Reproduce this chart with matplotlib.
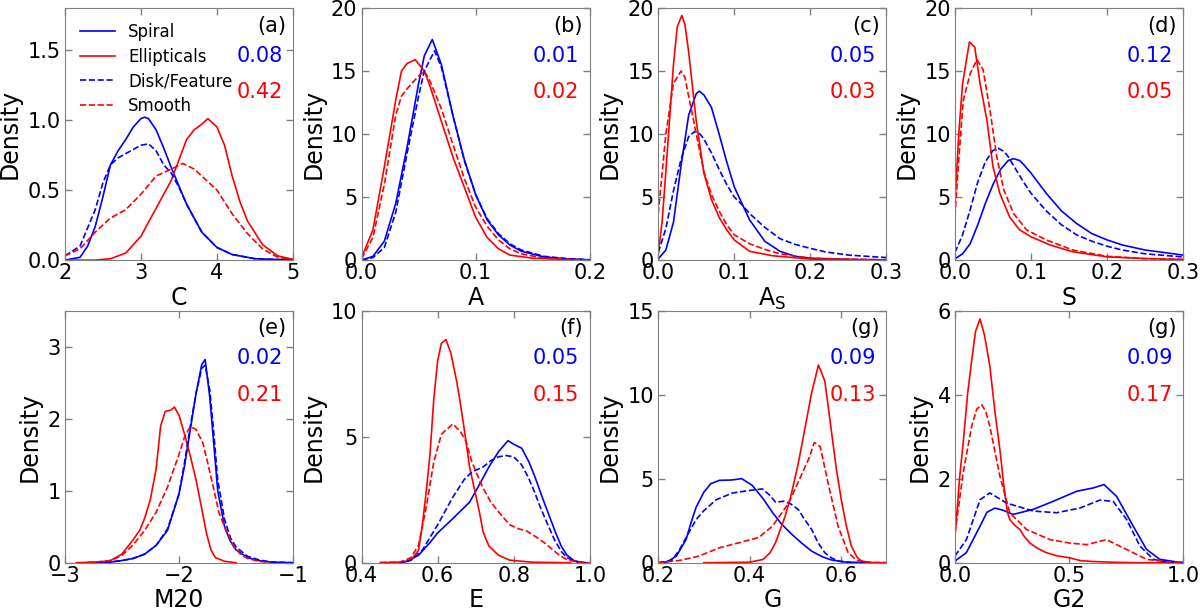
import matplotlib
matplotlib.use('Agg')
import matplotlib.pyplot as plt

# ---- data (x, density) ----
# (a) C
c_sp_x = [2.0, 2.2, 2.3, 2.4, 2.5, 2.6, 2.7, 2.8, 2.9, 3.0, 3.05, 3.1, 3.2, 3.3, 3.4, 3.5, 3.6, 3.8, 4.0, 4.2, 4.5, 5.0]
c_sp_y = [0.0, 0.02, 0.1, 0.24, 0.45, 0.68, 0.78, 0.86, 0.95, 1.01, 1.02, 1.01, 0.93, 0.8, 0.66, 0.53, 0.40, 0.2, 0.09, 0.04, 0.01, 0.0]
c_el_x = [2.0, 2.4, 2.6, 2.8, 3.0, 3.2, 3.4, 3.6, 3.7, 3.8, 3.88, 4.0, 4.1, 4.2, 4.3, 4.4, 4.6, 4.8, 5.0]
c_el_y = [0.0, 0.0, 0.01, 0.05, 0.17, 0.37, 0.57, 0.86, 0.93, 0.97, 1.01, 0.95, 0.82, 0.6, 0.42, 0.28, 0.11, 0.03, 0.005]
c_dk_x = [2.0, 2.2, 2.4, 2.5, 2.6, 2.7, 2.8, 2.9, 3.0, 3.1, 3.2, 3.3, 3.4, 3.5, 3.6, 3.8, 4.0, 4.2, 4.5, 5.0]
c_dk_y = [0.03, 0.1, 0.36, 0.55, 0.68, 0.73, 0.76, 0.79, 0.82, 0.83, 0.78, 0.68, 0.62, 0.52, 0.40, 0.2, 0.09, 0.04, 0.01, 0.0]
c_sm_x = [2.0, 2.2, 2.4, 2.6, 2.8, 3.0, 3.2, 3.4, 3.55, 3.7, 3.8, 4.0, 4.2, 4.4, 4.6, 4.8, 5.0]
c_sm_y = [0.03, 0.08, 0.2, 0.3, 0.36, 0.47, 0.6, 0.65, 0.69, 0.65, 0.6, 0.5, 0.33, 0.19, 0.08, 0.02, 0.005]

# (b) A
a_sp_x = [0.0, 0.01, 0.02, 0.03, 0.04, 0.05, 0.055, 0.062, 0.07, 0.08, 0.09, 0.1, 0.11, 0.12, 0.13, 0.14, 0.16, 0.18, 0.2]
a_sp_y = [0.0, 0.3, 1.5, 4.5, 9.0, 14.0, 16.2, 17.5, 15.5, 11.5, 8.0, 5.2, 3.2, 2.0, 1.2, 0.7, 0.25, 0.1, 0.02]
a_el_x = [0.0, 0.01, 0.02, 0.03, 0.035, 0.04, 0.047, 0.055, 0.06, 0.07, 0.08, 0.09, 0.1, 0.11, 0.12, 0.13, 0.15, 0.2]
a_el_y = [0.2, 2.4, 7.4, 12.7, 15.0, 15.6, 15.9, 15.0, 13.8, 11.0, 8.2, 5.8, 3.4, 1.8, 0.9, 0.4, 0.15, 0.0]
a_dk_x = [0.0, 0.01, 0.02, 0.03, 0.04, 0.05, 0.055, 0.064, 0.07, 0.08, 0.09, 0.1, 0.11, 0.12, 0.13, 0.14, 0.16, 0.18, 0.2]
a_dk_y = [0.0, 0.2, 1.0, 3.8, 8.5, 13.0, 15.0, 16.6, 15.3, 11.5, 7.9, 5.2, 3.3, 2.1, 1.3, 0.8, 0.3, 0.12, 0.03]
a_sm_x = [0.0, 0.01, 0.02, 0.03, 0.035, 0.04, 0.05, 0.055, 0.06, 0.07, 0.08, 0.09, 0.1, 0.11, 0.12, 0.13, 0.14, 0.16, 0.2]
a_sm_y = [0.1, 1.8, 6.0, 11.5, 13.0, 13.6, 14.6, 15.0, 14.2, 12.0, 9.2, 6.5, 4.2, 2.7, 1.6, 0.9, 0.5, 0.15, 0.0]

# (c) A_S
as_sp_x = [0.0, 0.01, 0.02, 0.03, 0.04, 0.05, 0.054, 0.06, 0.07, 0.08, 0.09, 0.1, 0.11, 0.12, 0.14, 0.16, 0.18, 0.2, 0.25, 0.3]
as_sp_y = [0.1, 0.8, 3.0, 7.5, 11.5, 13.2, 13.4, 13.1, 12.1, 10.0, 7.8, 5.8, 4.5, 3.2, 1.5, 0.7, 0.3, 0.15, 0.05, 0.02]
as_el_x = [0.0, 0.005, 0.01, 0.02, 0.025, 0.031, 0.035, 0.04, 0.05, 0.06, 0.07, 0.08, 0.09, 0.1, 0.12, 0.15, 0.2, 0.3]
as_el_y = [0.5, 3.0, 7.0, 15.5, 18.5, 19.4, 18.7, 16.5, 11.0, 6.9, 4.8, 3.4, 2.4, 1.6, 0.7, 0.35, 0.08, 0.0]
as_dk_x = [0.0, 0.01, 0.02, 0.03, 0.04, 0.048, 0.055, 0.06, 0.07, 0.08, 0.09, 0.1, 0.11, 0.12, 0.14, 0.16, 0.18, 0.2, 0.22, 0.25, 0.3]
as_dk_y = [0.6, 2.5, 5.5, 8.0, 9.8, 10.2, 10.0, 9.6, 8.5, 7.2, 6.0, 5.0, 4.4, 3.7, 2.6, 1.7, 1.25, 0.93, 0.65, 0.4, 0.2]
as_sm_x = [0.0, 0.01, 0.02, 0.03, 0.035, 0.04, 0.05, 0.06, 0.07, 0.08, 0.09, 0.1, 0.12, 0.14, 0.16, 0.2, 0.3]
as_sm_y = [3.7, 10.0, 14.0, 15.0, 14.5, 13.0, 10.0, 7.0, 5.2, 3.9, 2.8, 2.0, 1.3, 0.85, 0.5, 0.15, 0.02]

# (d) S
s_sp_x = [0.0, 0.01, 0.02, 0.03, 0.04, 0.05, 0.06, 0.07, 0.077, 0.085, 0.09, 0.1, 0.12, 0.14, 0.16, 0.18, 0.2, 0.22, 0.25, 0.3]
s_sp_y = [0.1, 0.5, 1.3, 2.8, 4.5, 6.0, 7.2, 7.9, 8.05, 7.9, 7.6, 6.9, 5.3, 3.9, 2.9, 2.1, 1.6, 1.2, 0.8, 0.4]
s_el_x = [0.0, 0.005, 0.01, 0.019, 0.026, 0.033, 0.042, 0.05, 0.059, 0.072, 0.085, 0.1, 0.125, 0.155, 0.2, 0.25, 0.3]
s_el_y = [4.6, 10.0, 14.0, 17.3, 16.9, 14.0, 11.1, 7.4, 5.3, 3.4, 2.4, 1.85, 1.2, 0.66, 0.26, 0.12, 0.05]
s_dk_x = [0.0, 0.01, 0.02, 0.03, 0.04, 0.05, 0.057, 0.065, 0.07, 0.08, 0.09, 0.1, 0.12, 0.14, 0.16, 0.18, 0.2, 0.22, 0.25, 0.3]
s_dk_y = [0.6, 2.0, 4.0, 6.2, 7.8, 8.7, 8.87, 8.6, 8.2, 7.2, 6.2, 5.3, 3.9, 2.8, 2.0, 1.5, 1.1, 0.8, 0.5, 0.25]
s_sm_x = [0.0, 0.005, 0.011, 0.02, 0.029, 0.037, 0.046, 0.055, 0.064, 0.077, 0.094, 0.12, 0.155, 0.2, 0.25, 0.3]
s_sm_y = [3.5, 8.0, 12.7, 14.8, 15.9, 15.1, 11.9, 8.2, 5.6, 3.7, 2.4, 1.6, 0.8, 0.3, 0.12, 0.05]

# (e) M20
m_sp_x = [-2.8, -2.6, -2.5, -2.4, -2.3, -2.2, -2.1, -2.0, -1.95, -1.9, -1.85, -1.8, -1.77, -1.73, -1.7, -1.66, -1.6, -1.55, -1.5, -1.4, -1.3, -1.2, -1.0]
m_sp_y = [0.0, 0.01, 0.03, 0.06, 0.12, 0.24, 0.45, 0.95, 1.35, 1.85, 2.35, 2.75, 2.82, 2.3, 1.75, 1.0, 0.5, 0.3, 0.18, 0.07, 0.03, 0.01, 0.0]
m_el_x = [-2.9, -2.7, -2.6, -2.5, -2.46, -2.4, -2.34, -2.3, -2.25, -2.2, -2.16, -2.12, -2.07, -2.04, -2.0, -1.95, -1.9, -1.85, -1.8, -1.76, -1.72, -1.68, -1.6, -1.5]
m_el_y = [0.0, 0.01, 0.03, 0.12, 0.2, 0.32, 0.46, 0.62, 0.88, 1.3, 1.9, 2.1, 2.12, 2.16, 2.05, 1.78, 1.48, 1.15, 0.75, 0.42, 0.18, 0.07, 0.02, 0.0]
m_dk_x = [-2.8, -2.6, -2.5, -2.4, -2.3, -2.2, -2.1, -2.0, -1.95, -1.9, -1.85, -1.8, -1.77, -1.73, -1.7, -1.66, -1.6, -1.55, -1.5, -1.4, -1.3, -1.2, -1.0]
m_dk_y = [0.0, 0.01, 0.03, 0.06, 0.12, 0.24, 0.47, 0.95, 1.4, 1.9, 2.35, 2.7, 2.74, 2.4, 1.9, 1.15, 0.6, 0.35, 0.22, 0.09, 0.04, 0.01, 0.0]
m_sm_x = [-2.8, -2.6, -2.5, -2.4, -2.3, -2.2, -2.1, -2.0, -1.95, -1.9, -1.85, -1.79, -1.75, -1.7, -1.65, -1.58, -1.52, -1.46, -1.4, -1.3, -1.2]
m_sm_y = [0.0, 0.03, 0.1, 0.25, 0.45, 0.7, 1.05, 1.5, 1.75, 1.89, 1.85, 1.66, 1.4, 1.06, 0.7, 0.42, 0.22, 0.12, 0.06, 0.02, 0.0]

# (f) E
e_sp_x = [0.45, 0.5, 0.52, 0.55, 0.58, 0.6, 0.64, 0.684, 0.71, 0.735, 0.76, 0.785, 0.8, 0.821, 0.84, 0.856, 0.875, 0.89, 0.91, 0.925, 0.94, 0.96, 0.99]
e_sp_y = [0.0, 0.0, 0.05, 0.3, 0.8, 1.18, 1.75, 2.4, 3.1, 3.8, 4.4, 4.84, 4.7, 4.54, 4.0, 3.4, 2.6, 2.0, 1.2, 0.66, 0.3, 0.07, 0.0]
e_el_x = [0.45, 0.5, 0.53, 0.55, 0.56, 0.57, 0.58, 0.59, 0.6, 0.61, 0.622, 0.635, 0.65, 0.66, 0.67, 0.684, 0.7, 0.71, 0.72, 0.735, 0.76, 0.79, 0.85, 0.95]
e_el_y = [0.0, 0.02, 0.1, 0.5, 1.5, 2.8, 4.3, 6.5, 8.0, 8.7, 8.85, 8.3, 7.2, 6.3, 5.3, 3.8, 2.7, 2.0, 1.2, 0.66, 0.3, 0.1, 0.02, 0.0]
e_dk_x = [0.45, 0.5, 0.53, 0.56, 0.6, 0.64, 0.67, 0.69, 0.72, 0.74, 0.76, 0.78, 0.8, 0.82, 0.838, 0.855, 0.87, 0.89, 0.907, 0.925, 0.94, 0.97]
e_dk_y = [0.0, 0.0, 0.1, 0.5, 1.5, 2.6, 3.3, 3.6, 3.8, 4.05, 4.2, 4.25, 4.2, 3.9, 3.4, 2.8, 2.2, 1.5, 0.92, 0.45, 0.2, 0.01]
e_sm_x = [0.45, 0.5, 0.53, 0.55, 0.57, 0.59, 0.61, 0.64, 0.66, 0.675, 0.69, 0.718, 0.74, 0.77, 0.79, 0.812, 0.835, 0.856, 0.88, 0.9, 0.92, 0.94, 0.97, 1.0]
e_sm_y = [0.0, 0.02, 0.2, 0.7, 2.2, 4.0, 5.1, 5.5, 5.2, 4.8, 4.0, 3.0, 2.4, 1.84, 1.5, 1.35, 1.25, 1.05, 0.8, 0.55, 0.3, 0.12, 0.02, 0.0]

# (g) G
g_sp_x = [0.2, 0.22, 0.24, 0.261, 0.272, 0.283, 0.3, 0.315, 0.334, 0.36, 0.383, 0.406, 0.43, 0.45, 0.47, 0.493, 0.515, 0.536, 0.56, 0.58, 0.61, 0.65, 0.7]
g_sp_y = [0.0, 0.05, 0.4, 1.38, 2.4, 3.3, 4.2, 4.7, 4.9, 4.92, 5.0, 4.6, 3.8, 3.0, 2.3, 1.68, 1.15, 0.69, 0.35, 0.16, 0.04, 0.0, 0.0]
g_el_x = [0.3, 0.4, 0.43, 0.445, 0.457, 0.478, 0.49, 0.507, 0.52, 0.536, 0.551, 0.565, 0.58, 0.59, 0.601, 0.612, 0.623, 0.635, 0.645, 0.67, 0.7]
g_el_y = [0.0, 0.03, 0.2, 0.6, 1.19, 2.77, 3.9, 5.93, 7.8, 10.1, 11.76, 10.8, 7.7, 5.6, 3.75, 2.2, 0.99, 0.35, 0.1, 0.0, 0.0]
g_dk_x = [0.2, 0.23, 0.247, 0.265, 0.283, 0.3, 0.327, 0.363, 0.4, 0.428, 0.445, 0.457, 0.475, 0.49, 0.507, 0.52, 0.536, 0.55, 0.565, 0.58, 0.594, 0.62, 0.65]
g_dk_y = [0.0, 0.15, 0.79, 1.7, 2.57, 3.1, 3.75, 4.15, 4.3, 4.39, 4.0, 3.6, 3.66, 3.5, 3.16, 2.6, 1.98, 1.2, 0.59, 0.28, 0.1, 0.02, 0.0]
g_sm_x = [0.2, 0.25, 0.29, 0.334, 0.377, 0.42, 0.45, 0.486, 0.515, 0.53, 0.542, 0.555, 0.572, 0.594, 0.616, 0.635, 0.66, 0.7]
g_sm_y = [0.0, 0.15, 0.4, 0.89, 1.19, 1.5, 2.17, 3.56, 5.3, 6.2, 7.15, 6.9, 4.74, 2.17, 0.59, 0.15, 0.02, 0.0]

# (g) G2
g2_sp_x = [0.0, 0.05, 0.11, 0.14, 0.175, 0.21, 0.255, 0.343, 0.43, 0.533, 0.606, 0.653, 0.708, 0.781, 0.839, 0.898, 0.97, 1.0]
g2_sp_y = [0.04, 0.24, 0.87, 1.2, 1.3, 1.25, 1.15, 1.27, 1.46, 1.7, 1.78, 1.86, 1.58, 0.87, 0.32, 0.08, 0.02, 0.0]
g2_el_x = [0.0, 0.02, 0.036, 0.055, 0.073, 0.09, 0.11, 0.13, 0.153, 0.175, 0.197, 0.215, 0.23, 0.24, 0.26, 0.285, 0.3, 0.328, 0.36, 0.4, 0.45, 0.5, 0.55, 0.6, 0.7, 0.8, 1.0]
g2_el_y = [0.6, 2.0, 2.85, 4.0, 4.8, 5.5, 5.8, 5.4, 4.67, 3.6, 2.69, 1.8, 1.2, 1.03, 0.9, 0.79, 0.65, 0.47, 0.35, 0.24, 0.16, 0.12, 0.05, 0.03, 0.01, 0.0, 0.0]
g2_dk_x = [0.0, 0.05, 0.11, 0.153, 0.226, 0.343, 0.445, 0.547, 0.635, 0.693, 0.752, 0.81, 0.869, 0.927, 1.0]
g2_dk_y = [0.16, 0.55, 1.5, 1.66, 1.42, 1.23, 1.19, 1.3, 1.49, 1.46, 1.03, 0.4, 0.08, 0.02, 0.0]
g2_sm_x = [0.0, 0.036, 0.073, 0.095, 0.117, 0.135, 0.153, 0.197, 0.24, 0.314, 0.416, 0.5, 0.577, 0.664, 0.75, 0.84, 0.93, 1.0]
g2_sm_y = [0.7, 2.14, 3.24, 3.65, 3.76, 3.6, 3.24, 2.06, 1.19, 0.79, 0.55, 0.47, 0.43, 0.55, 0.32, 0.08, 0.02, 0.0]

panel_tags = ['(a)', '(b)', '(c)', '(d)', '(e)', '(f)', '(g)', '(g)']
blue_vals = ['0.08', '0.01', '0.05', '0.12', '0.02', '0.05', '0.09', '0.09']
red_vals = ['0.42', '0.02', '0.03', '0.05', '0.21', '0.15', '0.13', '0.17']
xlabels = ['C', 'A', r'A$_\mathrm{S}$', 'S', 'M20', 'E', 'G', 'G2']

series = [
    (c_sp_x, c_sp_y, c_el_x, c_el_y, c_dk_x, c_dk_y, c_sm_x, c_sm_y),
    (a_sp_x, a_sp_y, a_el_x, a_el_y, a_dk_x, a_dk_y, a_sm_x, a_sm_y),
    (as_sp_x, as_sp_y, as_el_x, as_el_y, as_dk_x, as_dk_y, as_sm_x, as_sm_y),
    (s_sp_x, s_sp_y, s_el_x, s_el_y, s_dk_x, s_dk_y, s_sm_x, s_sm_y),
    (m_sp_x, m_sp_y, m_el_x, m_el_y, m_dk_x, m_dk_y, m_sm_x, m_sm_y),
    (e_sp_x, e_sp_y, e_el_x, e_el_y, e_dk_x, e_dk_y, e_sm_x, e_sm_y),
    (g_sp_x, g_sp_y, g_el_x, g_el_y, g_dk_x, g_dk_y, g_sm_x, g_sm_y),
    (g2_sp_x, g2_sp_y, g2_el_x, g2_el_y, g2_dk_x, g2_dk_y, g2_sm_x, g2_sm_y),
]

# axis ranges / ticks per panel
xlims = [(2, 5), (0, 0.2), (0, 0.3), (0, 0.3), (-3, -1), (0.4, 1.0), (0.2, 0.7), (0, 1.0)]
xticks = [[2, 3, 4, 5], [0.0, 0.1, 0.2], [0.0, 0.1, 0.2, 0.3], [0.0, 0.1, 0.2, 0.3],
          [-3, -2, -1], [0.4, 0.6, 0.8, 1.0], [0.2, 0.4, 0.6], [0.0, 0.5, 1.0]]
ylims = [(0, 1.8), (0, 20), (0, 20), (0, 20), (0, 3.5), (0, 10), (0, 15), (0, 6)]
yticks = [[0.0, 0.5, 1.0, 1.5], [0, 5, 10, 15, 20], [0, 5, 10, 15, 20], [0, 5, 10, 15, 20],
          [0, 1, 2, 3], [0, 5, 10], [0, 5, 10, 15], [0, 2, 4, 6]]

fig, axes = plt.subplots(2, 4, figsize=(12, 6.11), dpi=100)
fig.subplots_adjust(left=0.054, right=0.986, top=0.987, bottom=0.079, wspace=0.30, hspace=0.2)

for i, ax in enumerate(axes.flat):
    sx, sy, ex, ey, dx, dy, mx, my = series[i]
    ax.plot(sx, sy, color='#0000ff', lw=1.2, label='Spiral')
    ax.plot(ex, ey, color='#ff0000', lw=1.2, label='Ellipticals')
    ax.plot(dx, dy, color='#0000ff', lw=1.2, ls='--', label='Disk/Feature')
    ax.plot(mx, my, color='#ff0000', lw=1.2, ls='--', label='Smooth')

    ax.set_xlim(*xlims[i])
    ax.set_ylim(*ylims[i])
    ax.set_xticks(xticks[i])
    ax.set_yticks(yticks[i])
    ax.set_xlabel(xlabels[i], fontsize=17, labelpad=2)
    ax.set_ylabel('Density', fontsize=17)

    for sp in ax.spines.values():
        sp.set_color('#808080')
    ax.tick_params(direction='in', top=True, right=True, length=5, width=1,
                   color='#808080', labelsize=15)
    ax.tick_params(axis='x', pad=2)
    ax.tick_params(axis='y', pad=3)

    ax.text(0.97, 0.93, panel_tags[i], transform=ax.transAxes, ha='right', va='center', fontsize=15)
    ax.text(0.955, 0.81, blue_vals[i], transform=ax.transAxes, ha='right', va='center',
            fontsize=15, color='#0000ff')
    ax.text(0.955, 0.665, red_vals[i], transform=ax.transAxes, ha='right', va='center',
            fontsize=15, color='#ff0000')

    if i == 0:
        ax.legend(loc='upper left', frameon=False, fontsize=12, handlelength=2.1,
                  labelspacing=0.4)

fig.savefig('out.png', dpi=100)
